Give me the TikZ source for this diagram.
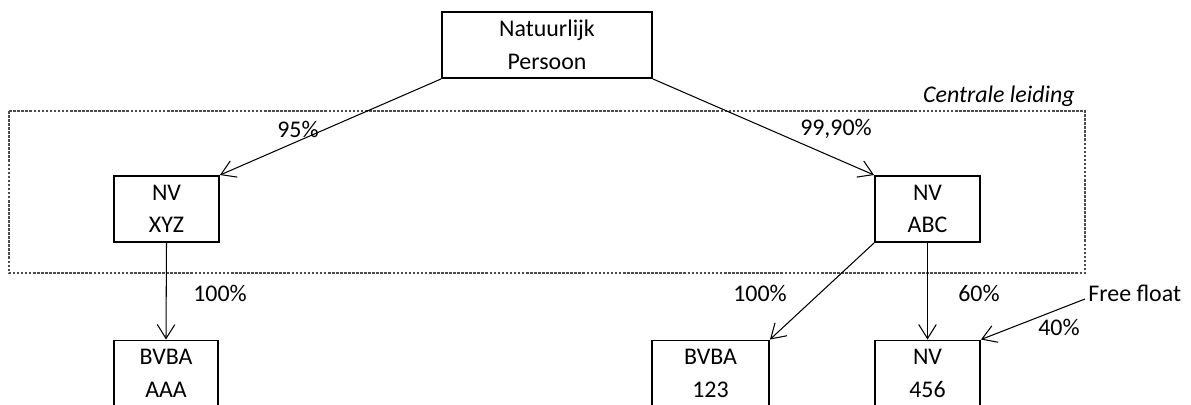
\documentclass[tikz,border=0pt]{standalone}
\usepackage{fontspec}
\setmainfont{Carlito}
\usetikzlibrary{arrows.meta,positioning}

\begin{document}
\begin{tikzpicture}[x=0.02cm,y=-0.02cm,
		entity/.style={draw, line width=1.1pt, inner sep=0pt, align=center, minimum height=1.32cm, font=\fontsize{13.6}{18.5}\selectfont},
		pct/.style={inner sep=0pt, font=\fontsize{13.6}{16}\selectfont},
		own/.style={-{Straight Barb[length=8pt,width=10pt]}, line width=0.6pt},
		frame/.style={dash pattern=on 1.5pt off 0.8pt, line width=0.7pt, black!70}]
		\useasboundingbox (0,0) rectangle (1191,405);
		\clip (0,0) rectangle (1191,405);

		\draw[frame] (9,111) rectangle (1085,273);
		\node[pct, font=\fontsize{13.6}{16}\selectfont\itshape, anchor=east] (lead) at (1075,96) {Centrale leiding};

		\node[entity, minimum width=4.2cm] (np) at (547,45) {Natuurlijk\\Persoon};
		\node[entity, minimum width=2.1cm] (xyz) at (166.5,209) {NV\\XYZ};
		\node[entity, minimum width=2.1cm] (abc) at (927.5,209) {NV\\ABC};
		\node[entity, minimum width=2.08cm] (aaa) at (166,373.5) {BVBA\\AAA};
		\node[entity, minimum width=2.34cm] (b123) at (710.5,373.5) {BVBA\\123};
		\node[entity, minimum width=2.1cm] (n456) at (927.5,373.5) {NV\\456};
		\node[pct, anchor=west] (ff) at (1088,293) {Free float};
		\coordinate (ffs) at (1085,299);

		\draw[own] (np.south west) -- (xyz.north east);
		\draw[own] (np.south east) -- (abc.north west);
		\draw[own] (xyz.south) -- (aaa.north);
		\draw[own] (abc.south west) -- (b123.north east);
		\draw[own] (abc.south) -- (n456.north);
		\draw[own] (ffs) -- (n456.north east);

		\node[pct] (p95) at (298,129) {95\%};
		\node[pct] (p999) at (836,129) {99,90\%};
		\node[pct] (p100a) at (220,293) {100\%};
		\node[pct] (p100b) at (760,293) {100\%};
		\node[pct] (p60) at (979,293) {60\%};
		\node[pct] (p40) at (1059,327) {40\%};
	\end{tikzpicture}
\end{document}
